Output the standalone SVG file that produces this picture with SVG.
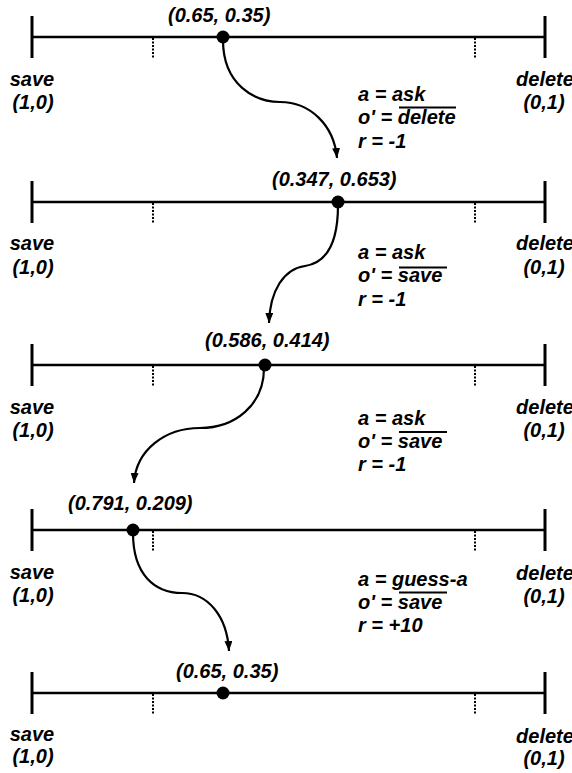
<svg xmlns="http://www.w3.org/2000/svg" width="572" height="773" viewBox="0 0 572 773">
<defs>
<style>
text{font-family:"Liberation Sans",Arial,Helvetica,sans-serif;font-weight:bold;font-style:italic;font-size:20px;fill:#000}
.mid{text-anchor:middle}
.axis{stroke:#000;stroke-width:2.5;fill:none}
.end{stroke:#000;stroke-width:3}
.dot{stroke:#000;stroke-width:2;stroke-dasharray:2 1.5}
.ol{stroke:#000;stroke-width:2}
.conn{stroke:#000;stroke-width:2.2;fill:none;marker-end:url(#arr)}
</style>
<marker id="arr" markerUnits="userSpaceOnUse" viewBox="0 0 10 8" refX="10" refY="4" markerWidth="10" markerHeight="8" orient="auto">
<path d="M0,0 L10,4 L0,8 z" fill="#000"/>
</marker>
</defs>

<g id="belief1">
<line class="axis" x1="32" y1="37" x2="545" y2="37"/>
<line class="end" x1="32" y1="16" x2="32" y2="58"/>
<line class="end" x1="545" y1="16" x2="545" y2="58"/>
<line class="dot" x1="153" y1="38" x2="153" y2="58"/>
<line class="dot" x1="475" y1="38" x2="475" y2="58"/>
<circle cx="223" cy="37" r="6.5"/>
<text x="168" y="22">(0.65, 0.35)</text>
<text class="mid" x="32" y="86">save</text>
<text class="mid" x="33" y="109">(1,0)</text>
<text class="mid" x="545" y="86">delete</text>
<text class="mid" x="544" y="109">(0,1)</text>
</g>

<g id="belief2">
<line class="axis" x1="32" y1="202" x2="545" y2="202"/>
<line class="end" x1="32" y1="181" x2="32" y2="223"/>
<line class="end" x1="545" y1="181" x2="545" y2="223"/>
<line class="dot" x1="153" y1="203" x2="153" y2="223"/>
<line class="dot" x1="475" y1="203" x2="475" y2="223"/>
<circle cx="338" cy="202" r="6.5"/>
<text x="272" y="186">(0.347, 0.653)</text>
<text class="mid" x="32" y="250">save</text>
<text class="mid" x="33" y="274">(1,0)</text>
<text class="mid" x="545" y="250">delete</text>
<text class="mid" x="544" y="274">(0,1)</text>
</g>

<g id="belief3">
<line class="axis" x1="32" y1="365" x2="545" y2="365"/>
<line class="end" x1="32" y1="344" x2="32" y2="386"/>
<line class="end" x1="545" y1="344" x2="545" y2="386"/>
<line class="dot" x1="153" y1="366" x2="153" y2="386"/>
<line class="dot" x1="475" y1="366" x2="475" y2="386"/>
<circle cx="265" cy="365" r="6.5"/>
<text x="205" y="347">(0.586, 0.414)</text>
<text class="mid" x="32" y="414">save</text>
<text class="mid" x="33" y="437">(1,0)</text>
<text class="mid" x="545" y="414">delete</text>
<text class="mid" x="544" y="437">(0,1)</text>
</g>

<g id="belief4">
<line class="axis" x1="32" y1="530" x2="545" y2="530"/>
<line class="end" x1="32" y1="509" x2="32" y2="551"/>
<line class="end" x1="545" y1="509" x2="545" y2="551"/>
<line class="dot" x1="153" y1="531" x2="153" y2="551"/>
<line class="dot" x1="475" y1="531" x2="475" y2="551"/>
<circle cx="133" cy="530" r="6.5"/>
<text x="68" y="510">(0.791, 0.209)</text>
<text class="mid" x="32" y="579">save</text>
<text class="mid" x="33" y="602">(1,0)</text>
<text class="mid" x="545" y="580">delete</text>
<text class="mid" x="544" y="603">(0,1)</text>
</g>

<g id="belief5">
<line class="axis" x1="32" y1="693" x2="545" y2="693"/>
<line class="end" x1="32" y1="672" x2="32" y2="714"/>
<line class="end" x1="545" y1="672" x2="545" y2="714"/>
<line class="dot" x1="153" y1="694" x2="153" y2="714"/>
<line class="dot" x1="475" y1="694" x2="475" y2="714"/>
<circle cx="223" cy="693" r="6.5"/>
<text x="176" y="678">(0.65, 0.35)</text>
<text class="mid" x="32" y="741">save</text>
<text class="mid" x="33" y="763">(1,0)</text>
<text class="mid" x="545" y="743">delete</text>
<text class="mid" x="544" y="765">(0,1)</text>
</g>

<g id="connectors">
<path class="conn" d="M223,40 C223,85 255,102 280,102 C310,102 334,125 337,158"/>
<path class="conn" d="M338,205 C338,245 325,263 305,266 C284,269 270,290 269,323"/>
<path class="conn" d="M264,368 C264,405 235,428 200,428 C165,428 136,450 134,483"/>
<path class="conn" d="M133,533 C133,575 155,593 182,593 C207,593 227,615 229,651"/>
</g>

<g id="step1">
<text x="358" y="101">a = ask</text>
<text x="358" y="124">o' = delete</text>
<line class="ol" x1="399" y1="107.5" x2="456" y2="107.5"/>
<text x="358" y="148">r = -1</text>
</g>
<g id="step2">
<text x="358" y="259">a = ask</text>
<text x="358" y="282">o' = save</text>
<line class="ol" x1="399" y1="267.5" x2="447" y2="267.5"/>
<text x="358" y="306">r = -1</text>
</g>
<g id="step3">
<text x="358" y="425">a = ask</text>
<text x="358" y="448">o' = save</text>
<line class="ol" x1="399" y1="432" x2="447" y2="432"/>
<text x="358" y="471">r = -1</text>
</g>
<g id="step4">
<text x="358" y="586">a = guess-a</text>
<text x="358" y="609">o' = save</text>
<line class="ol" x1="399" y1="592.5" x2="447" y2="592.5"/>
<text x="358" y="632">r = +10</text>
</g>
</svg>
